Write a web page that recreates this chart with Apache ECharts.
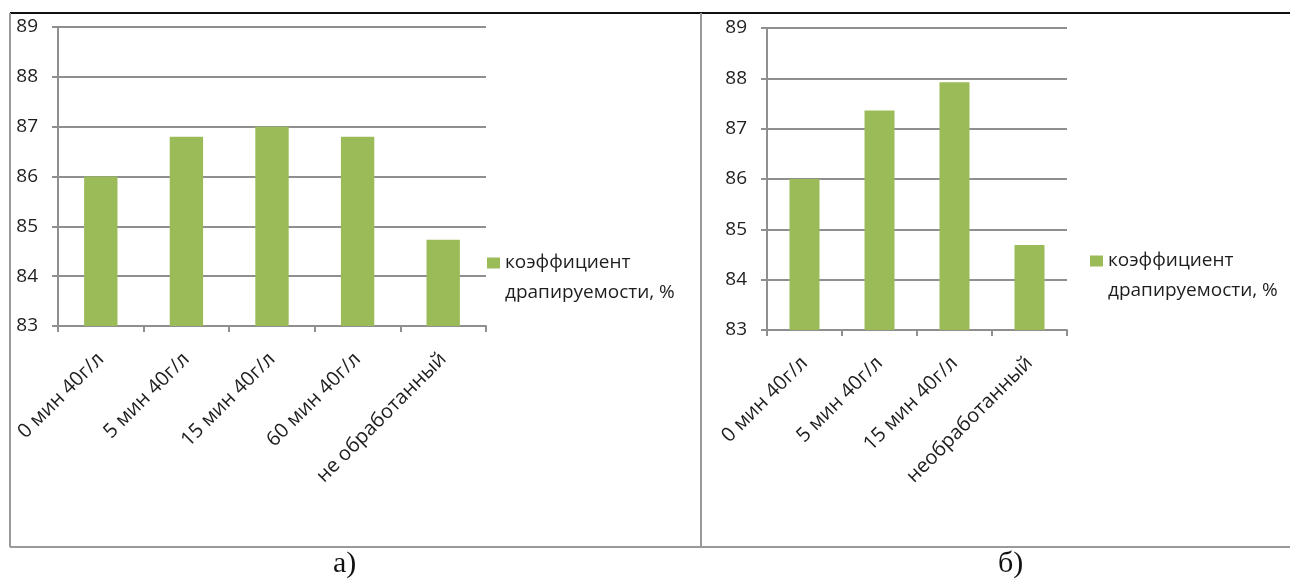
<!DOCTYPE html>
<html>
<head>
<meta charset="utf-8">
<script src="https://cdn.jsdelivr.net/npm/echarts@6/dist/echarts.min.js"></script>
<style>
  html, body { margin: 0; padding: 0; background: #fff; }
  #chart { width: 1290px; height: 580px; }
</style>
</head>
<body>
<div id="chart"></div>
<script>
// chart а)
const categoriesA = ['0 мин 40г/л', '5 мин 40г/л', '15 мин 40г/л', '60 мин 40г/л', 'не обработанный']
const valuesA = [86.0, 86.8, 87.0, 86.8, 84.73]
// chart б)
const categoriesB = ['0 мин 40г/л', '5 мин 40г/л', '15 мин 40г/л', 'необработанный']
const valuesB = [86.0, 87.36, 87.92, 84.69]

const seriesName = 'коэффициент\nдрапируемости, %'
const yTicks = { min: 83, max: 89, interval: 1 }
const captions = ['а)', 'б)']

const barColor = '#9bbb59'
const gridColor = '#8f8f8f'
const textColor = '#1e1e1e'
const font = '"Open Sans", "Noto Sans", sans-serif'

const chart = echarts.init(document.getElementById('chart'))

const yAxisBase = (gridIndex) => ({
  type: 'value',
  gridIndex: gridIndex,
  min: yTicks.min,
  max: yTicks.max,
  interval: yTicks.interval,
  axisLine: { show: true, lineStyle: { color: gridColor, width: 2 } },
  axisTick: { show: true, length: 6, lineStyle: { color: gridColor, width: 2 } },
  splitLine: { show: true, lineStyle: { color: gridColor, width: 2 } },
  axisLabel: { color: textColor, fontSize: 19, fontFamily: font, margin: 20 }
})

const xAxisBase = (gridIndex, data) => ({
  type: 'category',
  gridIndex: gridIndex,
  data: data,
  axisLine: { show: true, lineStyle: { color: gridColor, width: 2 } },
  axisTick: { show: true, length: 6, lineStyle: { color: gridColor, width: 2 } },
  axisLabel: { color: textColor, fontSize: 20, fontFamily: font, rotate: 45, margin: 30, interval: 0 }
})

// leading empty line keeps the icon next to the first text line
const legendBase = (left, top) => ({
  left: left,
  top: top,
  padding: 0,
  data: [{ name: seriesName }],
  icon: 'rect',
  itemWidth: 13,
  itemHeight: 11,
  itemGap: 4,
  selectedMode: false,
  formatter: (name) => '\n' + name,
  textStyle: {
    color: textColor,
    fontSize: 19,
    fontFamily: font,
    lineHeight: 30
  }
})

const option = {
  animation: false,
  grid: [
    { left: 58, top: 27, right: 804, bottom: 254 },
    { left: 767, top: 28, right: 223, bottom: 250 }
  ],
  xAxis: [xAxisBase(0, categoriesA), xAxisBase(1, categoriesB)],
  yAxis: [yAxisBase(0), yAxisBase(1)],
  legend: [legendBase(487, 218), legendBase(1090, 216)],
  series: [
    {
      name: seriesName,
      type: 'bar',
      xAxisIndex: 0,
      yAxisIndex: 0,
      data: valuesA,
      barWidth: '39%',
      itemStyle: { color: barColor }
    },
    {
      name: seriesName,
      type: 'bar',
      xAxisIndex: 1,
      yAxisIndex: 1,
      data: valuesB,
      barWidth: '40%',
      itemStyle: { color: barColor }
    }
  ],
  graphic: [
    // frame
    { type: 'line', shape: { x1: 10, y1: 13, x2: 1290, y2: 13 }, style: { stroke: '#111', lineWidth: 2 } },
    { type: 'line', shape: { x1: 10, y1: 13, x2: 10, y2: 547 }, style: { stroke: '#999', lineWidth: 2 } },
    { type: 'line', shape: { x1: 701, y1: 13, x2: 701, y2: 547 }, style: { stroke: '#999', lineWidth: 2 } },
    { type: 'line', shape: { x1: 10, y1: 547, x2: 1290, y2: 547 }, style: { stroke: '#999', lineWidth: 2 } },
    // captions
    { type: 'text', left: 333, top: 549, style: { text: captions[0], fill: '#111', font: '30px "Liberation Serif", serif' } },
    { type: 'text', left: 998, top: 549, style: { text: captions[1], fill: '#111', font: '30px "Liberation Serif", serif' } }
  ]
}

chart.setOption(option)
</script>
</body>
</html>
